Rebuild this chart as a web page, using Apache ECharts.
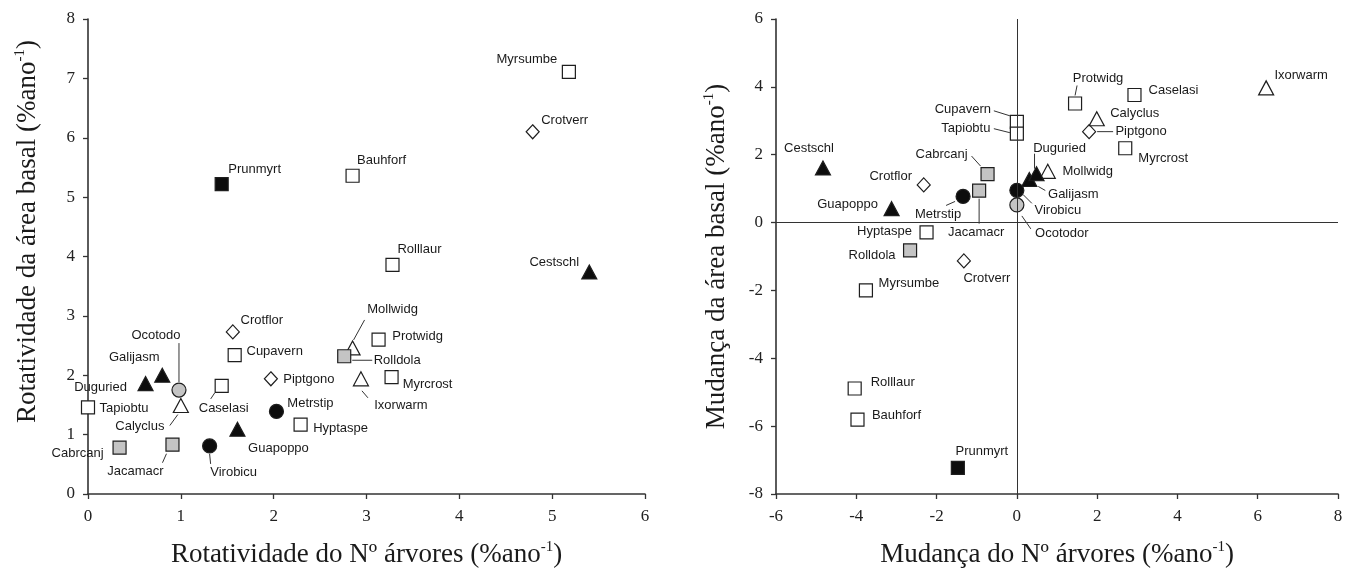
<!DOCTYPE html>
<html>
<head>
<meta charset="utf-8">
<script src="https://cdn.jsdelivr.net/npm/echarts@6/dist/echarts.min.js"></script>
<style>
html,body{margin:0;padding:0;background:#fff;}
#c{width:1349px;height:577px;}
</style>
</head>
<body>
<div id="c"></div>
<script>
// ---------- DATA ----------
const speciesLeft  = ['Myrsumbe','Crotverr','Bauhforf','Prunmyrt','Rolllaur','Cestschl','Crotflor','Protwidg','Mollwidg','Rolldola','Cupavern','Galijasm','Duguried','Ocotodo','Caselasi','Piptgono','Ixorwarm','Myrcrost','Tapiobtu','Calyclus','Metrstip','Hyptaspe','Guapoppo','Cabrcanj','Jacamacr','Virobicu'];
const speciesRight = ['Myrsumbe','Crotverr','Bauhforf','Prunmyrt','Rolllaur','Cestschl','Crotflor','Protwidg','Mollwidg','Rolldola','Cupavern','Galijasm','Duguried','Ocotodor','Caselasi','Piptgono','Ixorwarm','Myrcrost','Tapiobtu','Calyclus','Metrstip','Hyptaspe','Guapoppo','Cabrcanj','Jacamacr','Virobicu'];
// marker group of each species
const groups = ['sqO','diaO','sqO','sqB','sqO','triB','diaO','sqO','triO','sqG','sqO','triB','triB','cirG','sqO','diaO','triO','sqO','sqO','triO','cirB','sqO','triB','sqG','sqG','cirB'];

// left panel: turnover of number of trees (x) vs turnover of basal area (y)
const leftX = [5.18, 4.79, 2.85, 1.44, 3.28, 5.40, 1.56, 3.13, 2.85, 2.76, 1.58, 0.80, 0.62, 0.98, 1.44, 1.97, 2.94, 3.27, 0.00, 1.00, 2.03, 2.29, 1.61, 0.34, 0.91, 1.31];
const leftY = [7.11, 6.10, 5.36, 5.22, 3.86, 3.74, 2.73, 2.60, 2.46, 2.32, 2.34, 2.00, 1.86, 1.75, 1.82, 1.94, 1.94, 1.97, 1.46, 1.49, 1.39, 1.17, 1.09, 0.78, 0.83, 0.81];
// right panel: change of number of trees (x) vs change of basal area (y)
const rightX = [-3.76, -1.32, -3.97, -1.47, -4.04, -4.83, -2.32, 1.45, 0.77, -2.66, 0.00, 0.31, 0.49, 0.00, 2.93, 1.80, 6.21, 2.70, 0.00, 1.99, -1.34, -2.25, -3.12, -0.73, -0.94, 0.00];
const rightY = [-2.00, -1.13, -5.81, -7.23, -4.89, 1.61, 1.11, 3.51, 1.51, -0.82, 2.97, 1.27, 1.44, 0.52, 3.76, 2.68, 3.97, 2.19, 2.62, 3.06, 0.77, -0.29, 0.41, 1.43, 0.94, 0.95];

const leftTicks  = {min: 0, max: 6, interval: 1, ymin: 0, ymax: 8, yinterval: 1};
const rightTicks = {min: -6, max: 8, interval: 2, ymin: -8, ymax: 6, yinterval: 2};

// ---------- LAYOUT (label offsets in px, leader segments in px) ----------
const leftLabelOffsets = [[-42,-12],[32,-11],[29,-15],[33,-15],[27,-15],[-35,-10],[29,-11],[39,-3],[40,-39],[53,4],[40,-4],[-28,-18],[-45,4],[-23,-55],[2,22],[38,1],[40,27],[36,7],[36,1],[-41,21],[34,-8],[40,4],[41,19],[-42,6],[-37,27],[24,27]];
const rightLabelOffsets = [[43,-7],[23,18],[39,-4],[24,-16],[38,-6],[-14,-20],[-33,-8],[23,-25],[40,0],[-38,5],[-54,-12],[44,15],[23,-25],[45,28],[39,-5],[52,0],[35,-12],[38,10],[-51,-5],[38,-5],[-25,18],[-42,-1],[-44,-4],[-46,-20],[-3,42],[41,20]];
const leftLeaders = {Mollwidg:[12,-28,1,-8], Rolldola:[8,4,28,4], Ocotodo:[0,-47,0,-8], Caselasi:[-7,7,-11,13], Ixorwarm:[1,12,7,19], Calyclus:[-3,9,-11,20], Jacamacr:[-6,9,-10,18], Virobicu:[0,8,1,18]};
const rightLeaders = {Protwidg:[2,-18,0,-8], Piptgono:[8,0,24,0], Cupavern:[-23,-11,-7,-6], Tapiobtu:[-23,-5,-7,-1], Duguried:[-2,-20,-2,-5], Galijasm:[9,7,16,11], Cabrcanj:[-16,-18,-7,-8], Jacamacr:[0,8,0,33], Metrstip:[-8,5,-17,9], Virobicu:[6,4,15,13], Ocotodor:[5,11,14,24]};

const markerStyles = {
  sqO:  {symbol:'rect', size:[13,13], fill:'#ffffff'},
  sqB:  {symbol:'rect', size:[13,13], fill:'#0d0d0d'},
  sqG:  {symbol:'rect', size:[13,13], fill:'#c4c4c4'},
  diaO: {symbol:'diamond', size:[13,14], fill:'#ffffff'},
  triO: {symbol:'triangle', size:[15,14], fill:'#ffffff'},
  triB: {symbol:'triangle', size:[15,14], fill:'#0d0d0d'},
  cirB: {symbol:'circle', size:[14,14], fill:'#0d0d0d'},
  cirG: {symbol:'circle', size:[14,14], fill:'#c4c4c4'}
};

const SERIF = '"Liberation Serif", "Times New Roman", serif';
const SANS = '"Liberation Sans", Arial, sans-serif';

function buildPoints(names, xs, ys, offs) {
  return names.map((n, i) => {
    const m = markerStyles[groups[i]];
    return {
      name: n,
      value: [xs[i], ys[i]],
      symbol: m.symbol,
      symbolSize: m.size,
      itemStyle: {color: m.fill, opacity: 1, borderColor: '#1e1e1e', borderWidth: 1.2},
      label: {offset: offs[i]}
    };
  });
}
function buildLeaders(names, xs, ys, leaders) {
  return Object.keys(leaders).map(n => {
    const i = names.indexOf(n);
    return [xs[i], ys[i]].concat(leaders[n]);
  });
}
function leaderRender(params, api) {
  const p = api.coord([api.value(0), api.value(1)]);
  return {
    type: 'line',
    shape: {x1: p[0] + api.value(2), y1: p[1] + api.value(3), x2: p[0] + api.value(4), y2: p[1] + api.value(5)},
    style: {stroke: '#333', lineWidth: 1}
  };
}

function axisName(main) {
  return '{t|' + main + '}{s|-1}{t|)}';
}
const nameStyle = {
  fontFamily: SERIF, fontSize: 27, color: '#1a1a1a',
  rich: {
    t: {fontFamily: SERIF, fontSize: 27, color: '#1a1a1a', lineHeight: 30},
    s: {fontFamily: SERIF, fontSize: 15, color: '#1a1a1a', lineHeight: 16, verticalAlign: 'top'}
  }
};
function makeAxis(gridIndex, t, isY, name, gap, extra) {
  return Object.assign({
    gridIndex: gridIndex, type: 'value',
    min: isY ? t.ymin : t.min, max: isY ? t.ymax : t.max, interval: isY ? t.yinterval : t.interval,
    axisLine: {show: true, onZero: false, lineStyle: {color: '#333', width: 1.6}},
    axisTick: {show: true, length: 5, lineStyle: {color: '#333', width: 1.3}},
    axisLabel: {fontFamily: SERIF, fontSize: 17, color: '#222', margin: isY ? 13 : 14},
    splitLine: {show: false},
    name: axisName(name), nameLocation: 'middle', nameGap: gap,
    nameTextStyle: Object.assign({}, nameStyle)
  }, extra || {});
}

const labelCommon = {show: true, position: 'inside', formatter: '{b}', color: '#1a1a1a', fontFamily: SANS, fontSize: 13, align: 'center', verticalAlign: 'middle'};

const option = {
  animation: false,
  backgroundColor: '#ffffff',
  grid: [
    {left: 88, top: 19, width: 557, height: 475},
    {left: 776, top: 19, width: 562, height: 475}
  ],
  xAxis: [
    makeAxis(0, leftTicks, false, 'Rotatividade do Nº árvores (%ano', 46),
    makeAxis(1, rightTicks, false, 'Mudança do Nº árvores (%ano', 46)
  ],
  yAxis: [
    makeAxis(0, leftTicks, true, 'Rotatividade da área basal (%ano', 45),
    makeAxis(1, rightTicks, true, 'Mudança da área basal (%ano', 44)
  ],
  series: [
    {
      type: 'custom', xAxisIndex: 0, yAxisIndex: 0, silent: true,
      renderItem: leaderRender,
      data: buildLeaders(speciesLeft, leftX, leftY, leftLeaders), z: 1
    },
    {
      type: 'custom', xAxisIndex: 1, yAxisIndex: 1, silent: true,
      renderItem: leaderRender,
      data: buildLeaders(speciesRight, rightX, rightY, rightLeaders), z: 1
    },
    {
      type: 'scatter', xAxisIndex: 0, yAxisIndex: 0, z: 3,
      label: labelCommon,
      emphasis: {disabled: true},
      data: buildPoints(speciesLeft, leftX, leftY, leftLabelOffsets)
    },
    {
      type: 'scatter', xAxisIndex: 1, yAxisIndex: 1, z: 3,
      label: labelCommon,
      emphasis: {disabled: true},
      markLine: {
        silent: true, symbol: 'none', animation: false,
        label: {show: false},
        lineStyle: {color: '#333', width: 1, type: 'solid'},
        data: [{xAxis: 0}, {yAxis: 0}]
      },
      data: buildPoints(speciesRight, rightX, rightY, rightLabelOffsets)
    }
  ]
};
// shift left y-axis title slightly upward like the reference
option.yAxis[0].nameTextStyle.padding = [0, 0, 0, 50];

const chart = echarts.init(document.getElementById('c'), null, {renderer: 'canvas'});
chart.setOption(option);
</script>
</body>
</html>
